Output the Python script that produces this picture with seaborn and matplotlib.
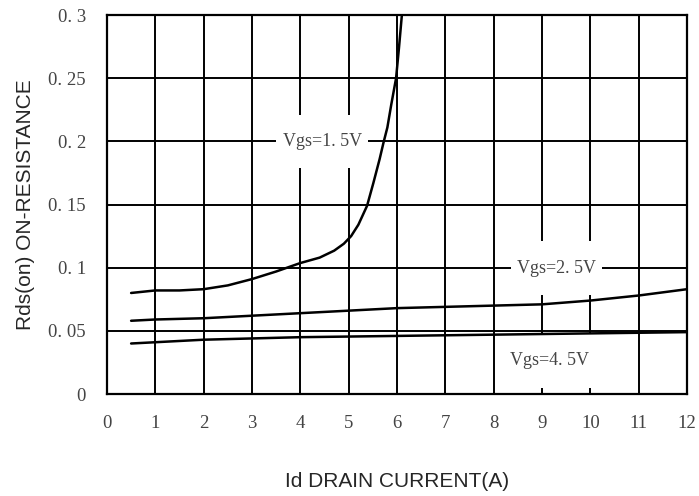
import numpy as np
import pandas as pd
import matplotlib
matplotlib.use("Agg")
import matplotlib.pyplot as plt
import seaborn as sns

# values
id_15 = [0.5, 1.0, 1.5, 2.0, 2.5, 3.0, 3.5, 4.0, 4.4, 4.7, 4.9, 5.05, 5.2, 5.38, 5.51, 5.64,
         5.72, 5.8, 5.88, 5.98, 6.04, 6.1]
rds_15 = [0.080, 0.082, 0.082, 0.083, 0.086, 0.091, 0.097, 0.1037, 0.108, 0.1135, 0.119, 0.125,
          0.134, 0.149, 0.167, 0.186, 0.199, 0.211, 0.229, 0.250, 0.274, 0.300]

id_25 = [0.5, 1, 2, 3, 4, 5, 6, 7, 8, 9, 10, 11, 12]
rds_25 = [0.058, 0.059, 0.060, 0.062, 0.064, 0.066, 0.068, 0.069, 0.070, 0.071, 0.074, 0.078, 0.083]

id_45 = [0.5, 1, 2, 3, 4, 5, 6, 7, 8, 9, 10, 11, 12]
rds_45 = [0.040, 0.041, 0.043, 0.044, 0.045, 0.0455, 0.046, 0.0465, 0.047, 0.0475, 0.048, 0.0485, 0.049]

curve_names = ["Vgs=1. 5V", "Vgs=2. 5V", "Vgs=4. 5V"]
label_pos = [(4.45, 0.200), (9.3, 0.0995), (9.15, 0.0262)]

xticks = list(range(0, 13))
yticks = [0, 0.05, 0.1, 0.15, 0.2, 0.25, 0.3]
ytick_labels = ["0", "0. 05", "0. 1", "0. 15", "0. 2", "0. 25", "0. 3"]

frames = []
for name, xs, ys in zip(curve_names, [id_15, id_25, id_45], [rds_15, rds_25, rds_45]):
    frames.append(pd.DataFrame({"Id": xs, "Rds": ys, "curve": name}))
df = pd.concat(frames, ignore_index=True)

sns.set_style("white")
fig = plt.figure(figsize=(6.99, 4.96), dpi=100)
ax = fig.add_axes([0.153, 0.2056, 0.830, 0.764])

sns.lineplot(data=df, x="Id", y="Rds", hue="curve", palette=["black"] * 3,
             sort=False, legend=False, linewidth=1.8, ax=ax, zorder=5)

ax.set_xlim(0, 12)
ax.set_ylim(0, 0.3)
ax.set_xticks(xticks)
ax.set_xticklabels([str(t) for t in xticks])
ax.set_yticks(yticks)
ax.set_yticklabels(ytick_labels)
ax.grid(True, color="black", linewidth=1.4)
ax.set_axisbelow(True)
for s in ax.spines.values():
    s.set_color("black")
    s.set_linewidth(1.6)
ax.tick_params(length=0, labelsize=13.5, labelcolor="#444444", pad=15)
for lab in ax.get_xticklabels() + ax.get_yticklabels():
    lab.set_family("Liberation Serif")

for name, (lx, ly) in zip(curve_names, label_pos):
    ax.text(lx, ly, "\n" + name + "\n", ha="center", va="center", fontsize=13,
            color="#444444", family="Liberation Serif", zorder=4, linespacing=0.62,
            bbox=dict(boxstyle="square,pad=0.35", fc="white", ec="none"))

ax.set_xlabel("Id DRAIN CURRENT(A)", fontsize=15, family="Liberation Sans", labelpad=29)
ax.set_ylabel("Rds(on) ON-RESISTANCE", fontsize=15, family="Liberation Sans", labelpad=10)

fig.savefig("out.png", dpi=100)
